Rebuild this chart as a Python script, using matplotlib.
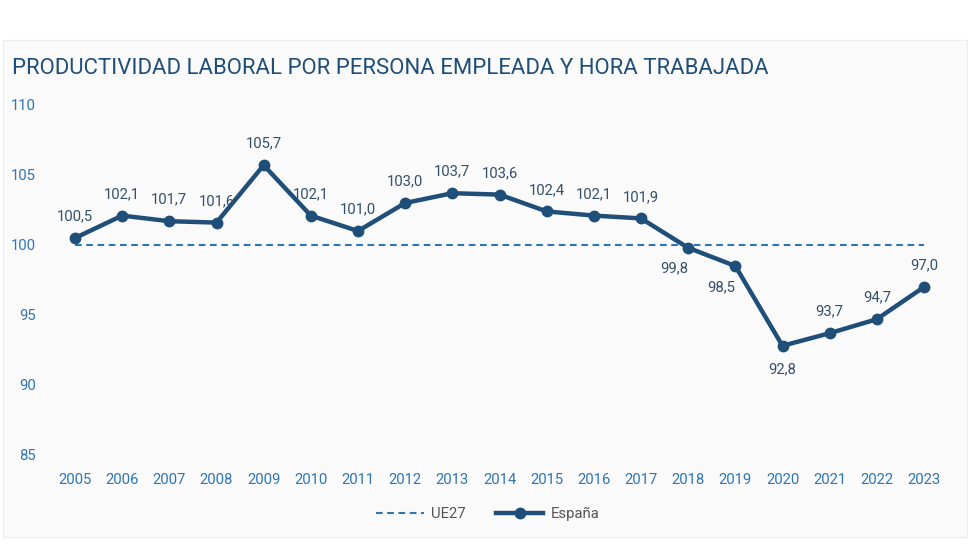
import matplotlib.pyplot as plt
from matplotlib.patches import Rectangle

years = list(range(2005, 2024))
espana = [100.5, 102.1, 101.7, 101.6, 105.7, 102.1, 101.0, 103.0, 103.7, 103.6,
          102.4, 102.1, 101.9, 99.8, 98.5, 92.8, 93.7, 94.7, 97.0]
ue27 = [100] * len(years)
yticks = [85, 90, 95, 100, 105, 110]
# label placement: 'up' above point, 'below' under point, 'left' below-left
label_pos = ['up'] * 13 + ['left', 'left', 'below', 'up', 'up', 'up']

DARK = '#1f4e79'
MID = '#2e75b6'
TXT = '#34506b'

plt.rcParams['font.family'] = ['Roboto', 'DejaVu Sans']

W, H = 980, 560
fig = plt.figure(figsize=(9.8, 5.6), dpi=100)
fig.patch.set_facecolor('white')
fig.patches.append(Rectangle((3 / W, 1 - 537 / H), 964 / W, 497 / H,
                             transform=fig.transFigure, facecolor='#fafafa',
                             edgecolor='#ececec', linewidth=0.8, zorder=-5))

ax = fig.add_axes([40 / W, 1 - 460 / H, 915 / W, 360 / H])
ax.set_facecolor('none')

ppy = (924 - 75) / 18
ax.set_xlim(2005 - 35 / ppy, 2023 + 31 / ppy)
ax.set_ylim(85 - 5 / 14, 110 + 5 / 14)

ax.plot(years, ue27, color=MID, linestyle=(0, (3.2, 2.2)), linewidth=1.5, label='UE27')
ax.plot(years, espana, color=DARK, linewidth=3.2, marker='o', markersize=7.5, label='España')

for x, v, p in zip(years, espana, label_pos):
    s = f'{v:.1f}'.replace('.', ',')
    if p == 'up':
        ax.annotate(s, (x, v), xytext=(0, 10.5), textcoords='offset points',
                    ha='center', va='bottom', fontsize=10.7, color=TXT)
    elif p == 'below':
        ax.annotate(s, (x, v), xytext=(0, -12), textcoords='offset points',
                    ha='center', va='top', fontsize=10.7, color=TXT)
    else:
        ax.annotate(s, (x, v), xytext=(-10, -10), textcoords='offset points',
                    ha='center', va='top', fontsize=10.7, color=TXT)

ax.set_xticks(years)
ax.set_xticklabels([str(y) for y in years])
ax.set_yticks(yticks)
ax.tick_params(axis='both', length=0, labelsize=10.7, labelcolor=MID)
ax.tick_params(axis='x', pad=9)
ax.tick_params(axis='y', pad=3)
for sp in ax.spines.values():
    sp.set_visible(False)

fig.text(12 / W, 1 - 68 / H, 'PRODUCTIVIDAD LABORAL POR PERSONA EMPLEADA Y HORA TRABAJADA',
         fontsize=15.9, color=DARK, va='center', ha='left')

leg = fig.legend(loc='center', bbox_to_anchor=(488 / W, 1 - 514 / H), ncol=2,
                 frameon=False, fontsize=10.7, handlelength=3.2, columnspacing=2.0,
                 handletextpad=0.5)
for t in leg.get_texts():
    t.set_color('#555555')

fig.savefig('out.png', dpi=100)
